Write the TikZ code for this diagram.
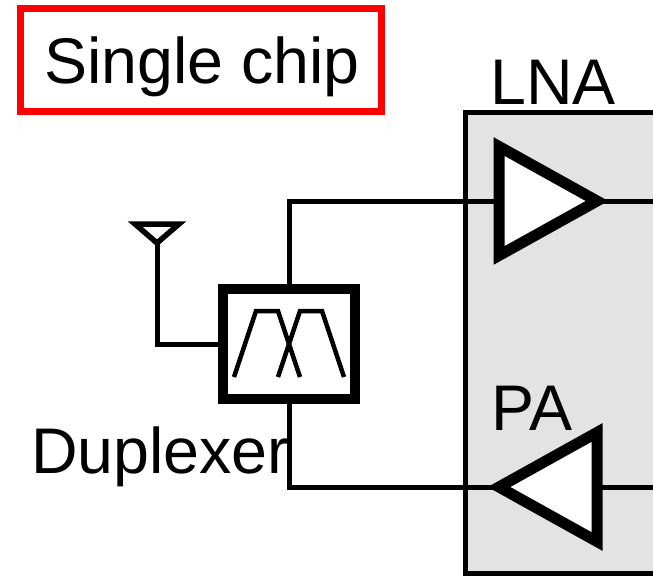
\documentclass[tikz,border=0pt]{standalone}
\usepackage{fontspec}
\setmainfont{Liberation Sans}
\usetikzlibrary{shapes.geometric,calc}
\definecolor{ChipGray}{HTML}{E3E3E3}
\definecolor{TagRed}{HTML}{FF0000}

\begin{document}
\begin{tikzpicture}[
	x=1pt, y=1pt,
	label/.style={inner sep=0pt, anchor=base west, font=\fontsize{64.5}{70}\selectfont},
	wire/.style={line width=5pt, miter limit=10},
	chipbox/.style={draw, line width=5pt, fill=ChipGray, outer sep=0pt, anchor=north west, minimum width=235pt, minimum height=460.5pt},
	tagbox/.style={draw=TagRed, line width=7pt, fill=white, outer sep=0pt, minimum width=361pt, minimum height=103pt},
	amp/.style={draw, line width=11pt, fill=white, isosceles triangle, isosceles triangle apex angle=57.4, inner sep=0pt, outer sep=0pt, minimum height=98pt, minimum width=109pt, isosceles triangle stretches},
	antenna/.style={draw, line width=5.5pt, fill=white, isosceles triangle, isosceles triangle apex angle=96, shape border rotate=-90, inner sep=0pt, outer sep=0pt, minimum height=19pt, minimum width=44pt, isosceles triangle stretches},
	filterbox/.style={draw, line width=10pt, fill=white, outer sep=0pt, minimum width=132pt, minimum height=110pt}
]
\clip (0,0) rectangle (653,-576);
\useasboundingbox (0,0) rectangle (653,-576);

\node[chipbox] (chip) at (465,-112.7) {};
\coordinate (lnaout) at (660,-201);
\coordinate (paout) at (660,-487);

\node[tagbox] (tag) at (201,-60) {};
\node[label] (single) at (44,-83) {Single chip};
\node[label] (lnatext) at (490,-104) {LNA};
\node[label] (patext) at (491.5,-430) {PA};

\node[amp, anchor=apex] (lna) at (597,-201) {};
\node[amp, anchor=apex, shape border rotate=180] (pa) at (499,-487) {};
\node[filterbox] (dup) at (289,-344) {};
\node[antenna, anchor=apex] (ant) at (157,-243) {};

\draw[wire] (dup.north) |- (lna.lower side);
\draw[wire] (dup.south) |- (pa.apex);
\draw[wire] (lna.apex) -- (lnaout);
\draw[wire] (pa.lower side) -- (paout);
\draw[wire] (ant.apex) |- (dup.west);

\draw[line width=4.5pt] (234,-377) -- (256,-311) -- (278,-311) -- (300,-377);
\draw[line width=4.5pt] (278,-377) -- (300,-311) -- (322,-311) -- (344,-377);
\node[label] (duptext) at (31,-473) {Duplexer};
\end{tikzpicture}
\end{document}
